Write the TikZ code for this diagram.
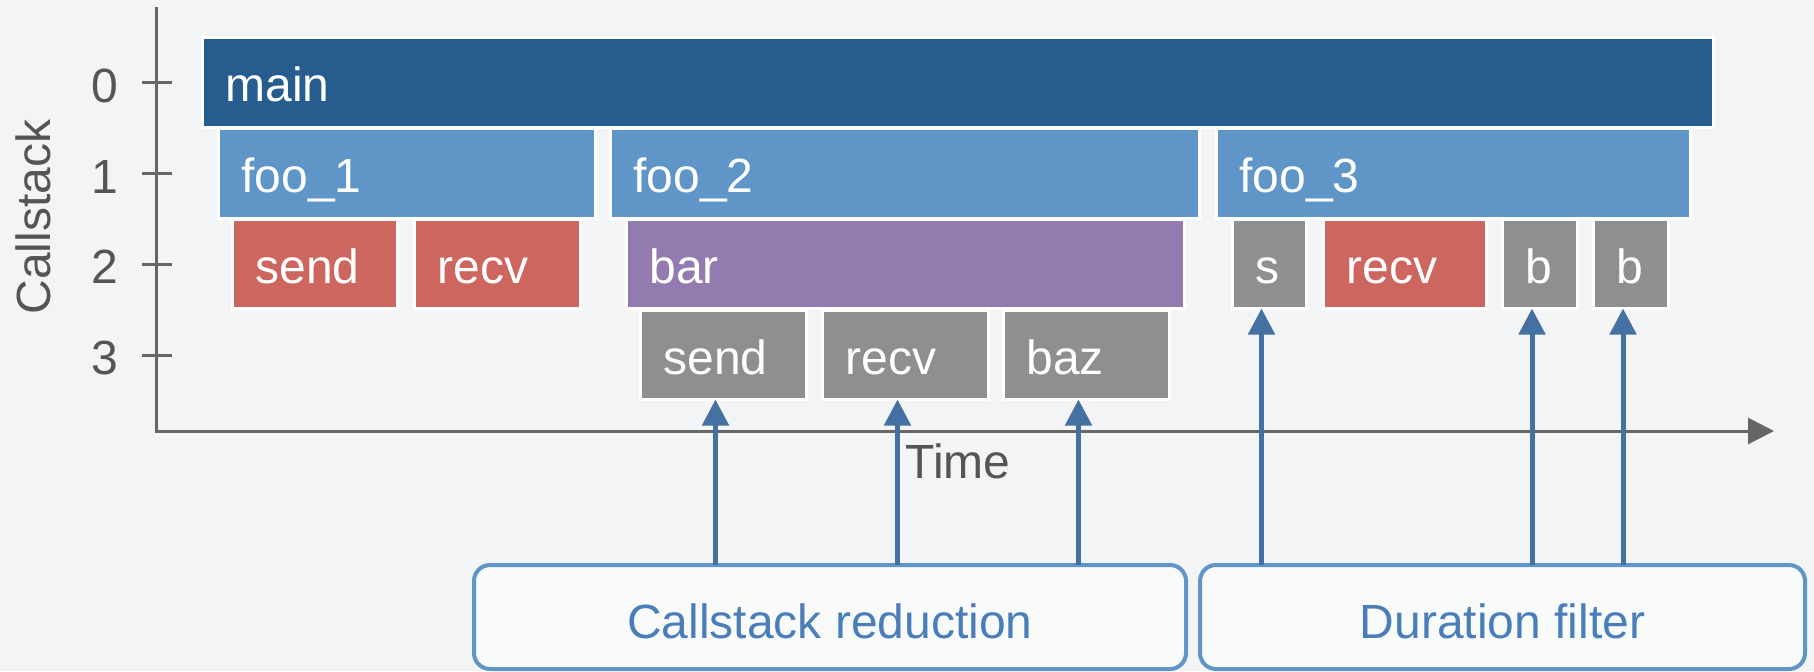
\documentclass[tikz,border=0pt]{standalone}
\usepackage{fontspec}
\setmainfont{Liberation Sans}
\usetikzlibrary{arrows.meta}

\definecolor{bg}{RGB}{243,244,246}
\definecolor{cmain}{RGB}{39,92,142}
\definecolor{cfoo}{RGB}{96,149,200}
\definecolor{cmpi}{RGB}{205,102,95}
\definecolor{cbar}{RGB}{147,123,176}
\definecolor{cgrey}{RGB}{143,143,143}
\definecolor{caxis}{RGB}{102,102,102}
\definecolor{clabel}{RGB}{85,85,85}
\definecolor{carrow}{RGB}{68,112,162}
\definecolor{cframe}{RGB}{96,149,200}
\definecolor{cftext}{RGB}{74,126,187}

\tikzset{
  bigfont/.style={font=\fontsize{24pt}{28pt}\selectfont},
  evt/.style={bigfont, draw=white, line width=1.5pt, text=white,
    inner xsep=11.5pt, inner ysep=0pt, outer sep=0pt,
    text height=19pt, text depth=0pt, align=left},
  axisline/.style={draw=caxis, line width=1.5pt},
  axislabel/.style={bigfont, text=clabel, inner sep=0pt},
  arr/.style={draw=carrow, line width=2.5pt, -{Triangle[length=13pt,width=13pt]}},
  framebox/.style={bigfont, draw=cframe, line width=2pt, rounded corners=8pt,
    fill=bg!50!white, text=cftext, inner sep=0pt, outer sep=0pt,
    minimum height=52pt, text height=21pt, text depth=0pt},
}

% one call record: name, left, top, right, bottom (pixels), colour, label
\newcommand\callnode[7]{%
  \pgfmathsetmacro\cnw{(#4-#2+3)*0.5}%
  \pgfmathsetmacro\cnh{(#5-#3+3)*0.5}%
  \pgfmathsetmacro\cntw{(#4-#2+3)*0.5-23}%
  \node[evt, fill=#6, minimum width=\cnw pt, minimum height=\cnh pt,
        text width=\cntw pt] (#1) at ({(#2+#4)/2},{(#3+#5)/2}) {#7};}

\begin{document}
\begin{tikzpicture}[x=0.5pt, y=-0.5pt]
  \fill[bg] (0,0) rectangle (1814,671);
  \useasboundingbox (0,0) rectangle (1814,671);

  % axes
  \coordinate (ytop) at (156,7);
  \coordinate (origin) at (156,431);
  \coordinate (xend) at (1774,431);
  \draw[axisline, line join=miter, -{Triangle[length=13pt,width=13pt]}]
    (ytop) -- (origin) -- (xend);
  \foreach \lvl/\yy in {0/82.5, 1/173.5, 2/264, 3/355} {
    \draw[axisline] (142,\yy) -- (172,\yy);
    \node[axislabel, anchor=base] (tick\lvl) at (105,\yy+19.5) {\lvl};
  }
  \node[axislabel, rotate=90] (ylabel) at (33,217) {Callstack};
  \node[axislabel, anchor=base] (xlabel) at (958,478) {Time};

  % level 0
  \callnode{main}{204}{39}{1712}{126}{cmain}{main}
  % level 1
  \callnode{foo1}{220}{130}{594}{217}{cfoo}{foo\_1}
  \callnode{foo2}{612}{130}{1198}{217}{cfoo}{foo\_2}
  \callnode{foo3}{1218}{130}{1689}{217}{cfoo}{foo\_3}
  % level 2
  \callnode{sendA}{234}{221}{396}{307}{cmpi}{send}
  \callnode{recvA}{416}{221}{579}{307}{cmpi}{recv}
  \callnode{bar}{628}{221}{1183}{307}{cbar}{bar}
  \callnode{sC}{1234}{221}{1305}{307}{cgrey}{s}
  \callnode{recvC}{1325}{221}{1485}{307}{cmpi}{recv}
  \callnode{bC}{1504}{221}{1576}{307}{cgrey}{b}
  \callnode{bD}{1595}{221}{1667}{307}{cgrey}{b}
  % level 3
  \callnode{sendB}{642}{312}{805}{398}{cgrey}{send}
  \callnode{recvB}{824}{312}{987}{398}{cgrey}{recv}
  \callnode{baz}{1005}{312}{1168}{398}{cgrey}{baz}

  % filters
  \node[framebox, minimum width=356pt] (reduce) at (830,617) {Callstack reduction};
  \node[framebox, minimum width=302.5pt] (duration) at (1502.5,617) {Duration filter};

  \foreach \n in {sendB, recvB, baz}
    \draw[arr] ([xshift=-4pt]\n.south |- reduce.north) -- ([xshift=-4pt]\n.south);
  \foreach \n in {sC, bC, bD}
    \draw[arr] ([xshift=-4pt]\n.south |- duration.north) -- ([xshift=-4pt]\n.south);
\end{tikzpicture}
\end{document}
